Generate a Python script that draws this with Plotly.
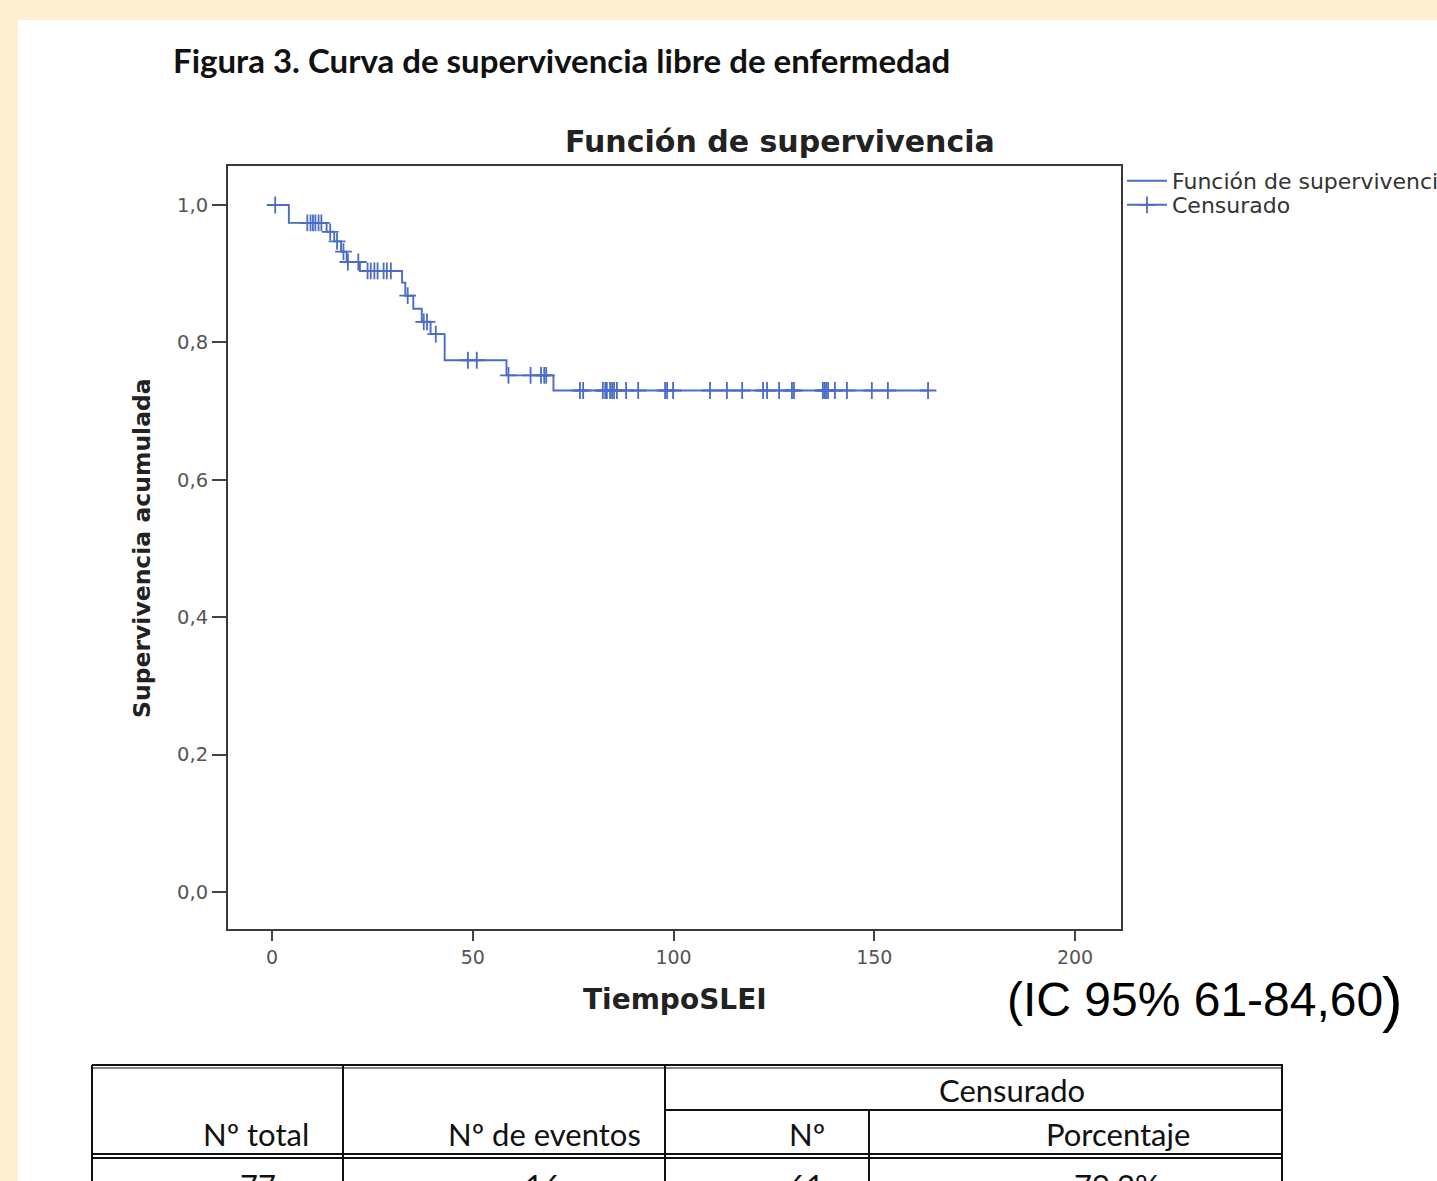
import bisect
import plotly.graph_objects as go

# ---------------- data ----------------
step_times = [0, 4.2, 13.6, 15.5, 17.2, 18.6, 21.9, 32.4, 33.2, 35.2, 37.3, 39.5, 43.0, 58.4, 70.1]
step_surv = [1.000, 0.974, 0.961, 0.947, 0.932, 0.917, 0.904, 0.887, 0.868, 0.849, 0.830, 0.812, 0.774, 0.752, 0.730]
last_time = 163.4

censored_times = [0.8, 8.8, 9.6, 10.2, 10.8, 11.6, 12.3, 14.5, 16.2, 17.8, 18.9, 21.5,
                  23.8, 24.6, 25.5, 26.3, 27.8, 28.6, 29.6, 33.8, 37.8, 38.6, 40.8,
                  48.8, 51.0, 58.9, 64.4, 67.0, 67.8, 68.3,
                  76.7, 77.5, 82.4, 83.0, 83.4, 84.2, 84.7, 85.2, 85.9, 88.2, 91.2, 97.9,
                  98.4, 99.9, 109.1, 113.3, 117.1, 122.3, 123.3, 126.3, 129.5, 130.0,
                  137.2, 137.6, 138.0, 138.5, 140.2, 143.2, 149.4, 153.4, 163.4]

x_ticks = [0, 50, 100, 150, 200]
y_ticks = [0.0, 0.2, 0.4, 0.6, 0.8, 1.0]

table_headers = ["Nº total", "Nº de eventos", "Nº", "Porcentaje"]
table_group = "Censurado"
table_values = ["77", "16", "61", "79,2%"]

fig_caption = "Figura 3. Curva de supervivencia libre de enfermedad"
chart_title = "Función de supervivencia"
x_title = "TiempoSLEI"
y_title = "Supervivencia acumulada"
ci_text = "(IC 95% 61-84,60"

# ---------------- layout helpers ----------------
W, H = 1437, 1181
L, R, T, B = 228, 1121, 166, 929


def px_x(px):
    return (px - L) / (R - L)


def px_y(py):
    return (B - py) / (B - T)


def surv_at(t):
    i = bisect.bisect_right(step_times, t) - 1
    return step_surv[i]


BLUE = "#4A6CC6"

line_x = step_times + [last_time]
line_y = step_surv + [step_surv[-1]]

cx, cy = [], []
for t in censored_times:
    cx += [t, None]
    cy += [surv_at(t), None]

fig = go.Figure()
fig.add_trace(go.Scatter(
    x=line_x, y=line_y, mode="lines", line=dict(color=BLUE, width=1.9, shape="hv"),
    name="Función de supervivencia", hoverinfo="skip", legend="legend"))
fig.add_trace(go.Scatter(
    x=cx, y=cy, mode="lines+markers", line=dict(color=BLUE, width=1.9),
    marker=dict(symbol="cross-thin", size=12, line=dict(color=BLUE, width=1.8)),
    connectgaps=False, name="Censurado", hoverinfo="skip", legend="legend2"))

# x range from pixel calibration: 0 -> 272px, 200 -> 1075px
xs = (1075 - 272) / 200.0
ys = (892 - 205) / 1.0
x_range = [-(272 - L) / xs, (R - 272) / xs]
y_range = [-(B - 892) / ys, (892 - T) / ys]

fig.update_xaxes(range=x_range, tickvals=x_ticks, ticks="outside", ticklen=10, tickwidth=2,
                 tickcolor="#444", showline=True, linecolor="#3a3a3a", linewidth=2, mirror=True,
                 showgrid=False, zeroline=False,
                 tickfont=dict(family="DejaVu Sans", size=19, color="#555"))
fig.update_yaxes(range=y_range, tickvals=y_ticks, tickformat=".1f", ticks="outside", ticklen=14,
                 tickwidth=2, tickcolor="#444", showline=True, linecolor="#3a3a3a", linewidth=2,
                 mirror=True, showgrid=False, zeroline=False,
                 tickfont=dict(family="DejaVu Sans", size=19.5, color="#555"))

shapes = [
    dict(type="rect", xref="paper", yref="paper", x0=px_x(18), x1=px_x(W + 5), y0=px_y(20), y1=px_y(H + 5),
         fillcolor="white", line=dict(width=0), layer="below"),
]


def hline(x0, x1, y, w=2):
    shapes.append(dict(type="line", xref="paper", yref="paper", x0=px_x(x0), x1=px_x(x1),
                       y0=px_y(y), y1=px_y(y), line=dict(color="#111", width=w)))


def vline(x, y0, y1, w=2):
    shapes.append(dict(type="line", xref="paper", yref="paper", x0=px_x(x), x1=px_x(x),
                       y0=px_y(y0), y1=px_y(y1), line=dict(color="#111", width=w)))


# table lines
hline(92, 1283, 1065, 2)
hline(92, 1283, 1068, 1)
hline(665, 1283, 1110, 2)
hline(92, 1283, 1154, 2)
hline(92, 1283, 1158, 2)
vline(92, 1065, H + 5)
vline(343, 1065, H + 5)
vline(665, 1065, H + 5)
vline(869, 1110, H + 5)
vline(1282, 1065, H + 5)

annotations = []


def text(s, x, y, size, family, color="#111", bold=False, angle=0, xanchor="center"):
    annotations.append(dict(text=f"<b>{s}</b>" if bold else s, x=px_x(x), y=px_y(y), xref="paper",
                            yref="paper", showarrow=False, xanchor=xanchor, yanchor="middle",
                            textangle=angle, font=dict(family=family, size=size, color=color)))


text(fig_caption, 171, 60, 33, "Lato", bold=True, xanchor="left")
text(chart_title, 780, 141, 30, "DejaVu Sans", color="#222", bold=True)
text(x_title, 675, 1000, 28, "DejaVu Sans", color="#222", bold=True)
text(y_title, 142, 548, 23.5, "DejaVu Sans", color="#222", bold=True, angle=-90)
text(ci_text, 1005, 1000, 48, "Liberation Sans", color="#000", xanchor="left")
text(")", 1392, 998, 62, "Liberation Sans", color="#000")

text(table_group, 1012, 1090, 31, "Lato")
header_x = [256, 544, 807, 1118]
value_x = [258, 543, 806, 1117]
for hx, h in zip(header_x, table_headers):
    text(h, hx, 1134, 31, "Lato")
for vx, v in zip(value_x, table_values):
    text(v, vx, 1185, 31, "Lato")

legend_common = dict(xanchor="left", yanchor="middle", bgcolor="rgba(0,0,0,0)",
                     font=dict(family="DejaVu Sans", size=22, color="#333"),
                     itemwidth=40)

fig.update_layout(
    width=W, height=H,
    margin=dict(l=L, r=W - R, t=T, b=H - B, autoexpand=False),
    paper_bgcolor="#FFEFD0",
    plot_bgcolor="#F0F0F0",
    separators=",.",
    showlegend=True,
    legend=dict(x=px_x(1122), y=px_y(181), **legend_common),
    legend2=dict(x=px_x(1122), y=px_y(205), **legend_common),
    shapes=shapes,
    annotations=annotations,
)

fig.write_html("out.html")
